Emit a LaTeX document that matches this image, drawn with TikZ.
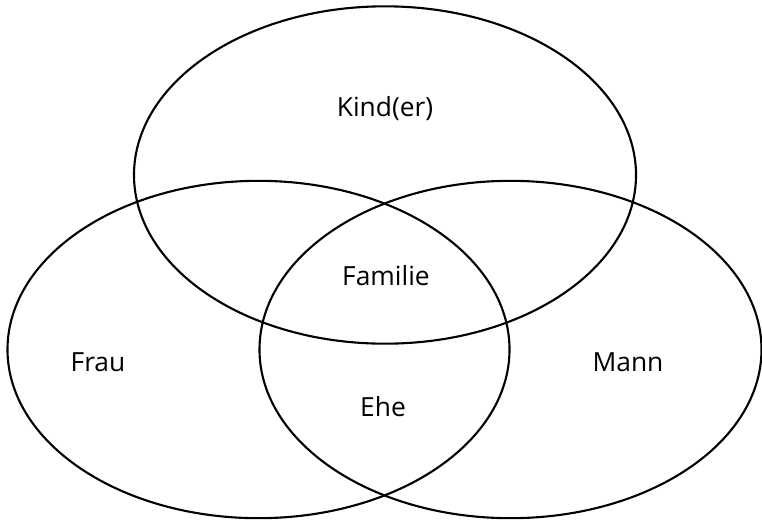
\documentclass[tikz,border=0pt]{standalone}
\usepackage{fontspec}
\setmainfont{Open Sans}
\usepackage{tikz}
\usetikzlibrary{shapes.geometric}

\begin{document}
\begin{tikzpicture}[
    x=0.03cm, y=-0.03cm,
    set/.style={
        draw,
        ellipse,
        line width=1.8pt,
        inner sep=0pt,
        minimum width=15.06cm,
        minimum height=10.12cm
    },
    label/.style={font=\fontsize{22.5}{26}\selectfont, inner sep=0pt, anchor=base}
]
\useasboundingbox (0,0) rectangle (762,522);

\node[set] (kinder) at (385,175) {};
\node[set] (frau) at (258.5,349.5) {};
\node[set] (mann) at (510.5,349.5) {};

\node[label] (kindtext) at (385,116) {Kind(er)};
\node[label] (familie) at (386,285) {Familie};
\node[label] (fraulabel) at (98,371) {Frau};
\node[label] (mannlabel) at (628,371) {Mann};
\node[label] (ehe) at (383,416) {Ehe};

\end{tikzpicture}
\end{document}
